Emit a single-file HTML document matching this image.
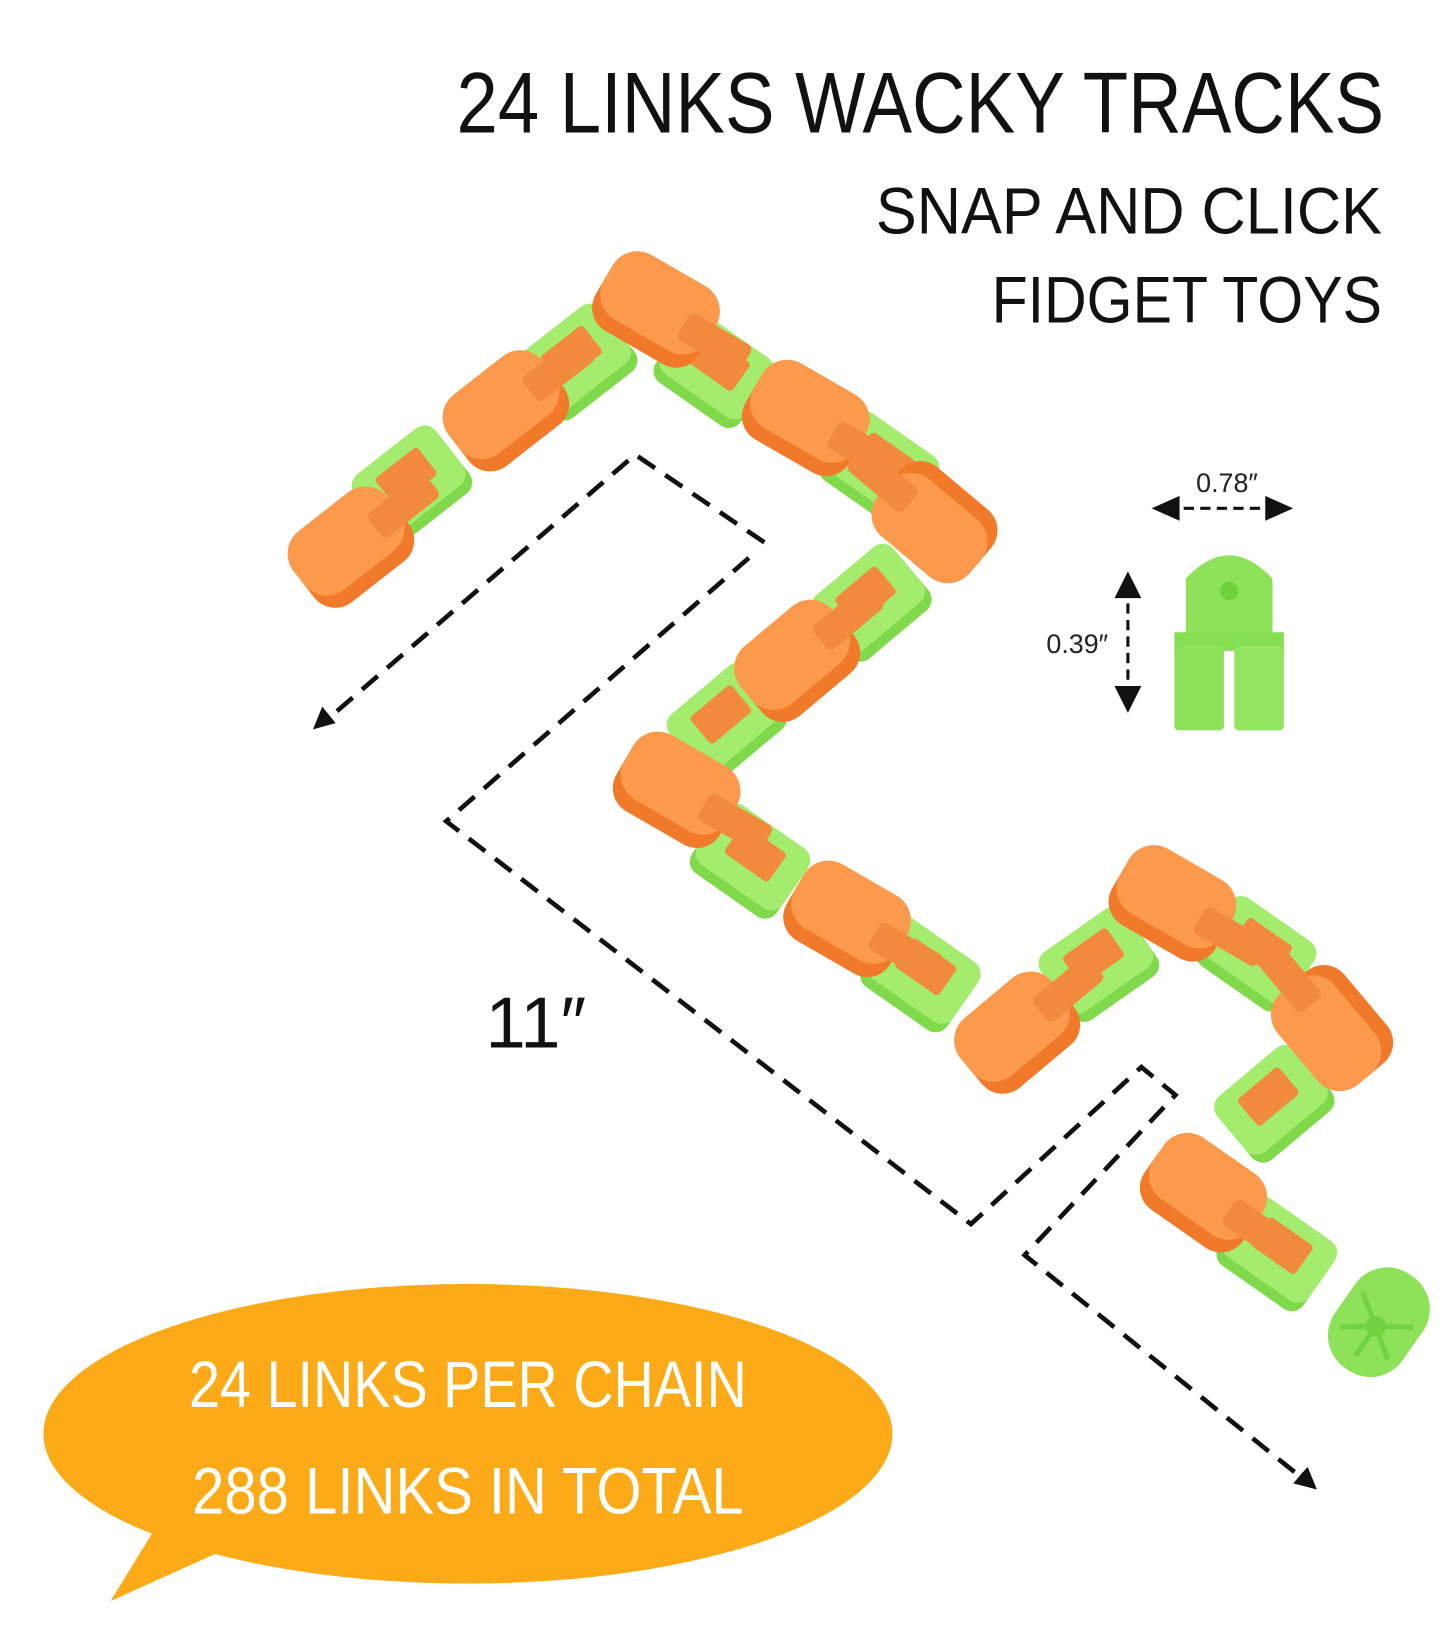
<!DOCTYPE html>
<html><head><meta charset="utf-8"><style>
html,body{margin:0;padding:0;background:#fff;}
svg{display:block;}
text{font-family:"Liberation Sans Narrow","Liberation Sans",sans-serif;}
</style></head><body>
<svg width="1445" height="1625" viewBox="0 0 1399 1573" xmlns="http://www.w3.org/2000/svg">
<defs>
<g id="og">
 <rect x="-58" y="-30" width="116" height="72" rx="26" fill="#f07a2a"/>
 <rect x="-58" y="-44" width="116" height="72" rx="28" fill="#fb9a4c"/>
 <rect x="30" y="-16" width="70" height="30" rx="6" fill="#f28a3e"/>
</g>
<g id="gr">
 <rect x="-50" y="-34" width="100" height="72" rx="14" fill="#7fd94a"/>
 <rect x="-50" y="-42" width="100" height="70" rx="14" fill="#a3ec6e"/>
 <rect x="-26" y="-28" width="52" height="34" rx="4" fill="#f28a3e"/>
</g>
<marker id="ah" markerWidth="10" markerHeight="10" refX="5" refY="5" orient="auto" markerUnits="userSpaceOnUse" viewBox="0 0 10 10"><path d="M0,0 L10,5 L0,10 Z" fill="#111"/></marker>
</defs>

<text x="1340" y="128" font-size="84" text-anchor="end" fill="#111" textLength="898" lengthAdjust="spacingAndGlyphs">24 LINKS WACKY TRACKS</text>
<text x="1338" y="226" font-size="64" text-anchor="end" fill="#111" textLength="490" lengthAdjust="spacingAndGlyphs">SNAP AND CLICK</text>
<text x="1338" y="312" font-size="64" text-anchor="end" fill="#111" textLength="378" lengthAdjust="spacingAndGlyphs">FIDGET TOYS</text>

<g>
<use href="#gr" transform="translate(400,470) rotate(-38)"/>
<use href="#gr" transform="translate(560,352) rotate(-38)"/>
<use href="#gr" transform="translate(690,360) rotate(35)"/>
<use href="#gr" transform="translate(850,455) rotate(35)"/>
<use href="#gr" transform="translate(845,585) rotate(-40)"/>
<use href="#gr" transform="translate(705,700) rotate(-40)"/>
<use href="#gr" transform="translate(725,835) rotate(35)"/>
<use href="#gr" transform="translate(890,945) rotate(35)"/>
<use href="#gr" transform="translate(1065,935) rotate(-35)"/>
<use href="#gr" transform="translate(1215,925) rotate(35)"/>
<use href="#gr" transform="translate(1235,1070) rotate(-40)"/>
<use href="#gr" transform="translate(1235,1215) rotate(35)"/>
</g>
<g transform="translate(1335,1280) rotate(-55)">
 <rect x="-55" y="-40" width="110" height="80" rx="38" fill="#8ee25a"/>
 <circle cx="-5" cy="0" r="10" fill="#6fd13e"/>
 <g stroke="#72d342" stroke-width="5"><line x1="-5" y1="0" x2="-40" y2="0"/><line x1="-5" y1="0" x2="-25" y2="-28"/><line x1="-5" y1="0" x2="-25" y2="28"/><line x1="-5" y1="0" x2="15" y2="-30"/><line x1="-5" y1="0" x2="15" y2="30"/></g>
</g>
<g>
<use href="#og" transform="translate(340,530) rotate(-38)"/>
<use href="#og" transform="translate(490,398) rotate(-38)"/>
<use href="#og" transform="translate(635,300) rotate(30)"/>
<use href="#og" transform="translate(780,405) rotate(30)"/>
<use href="#og" transform="translate(905,505) rotate(-140)"/>
<use href="#og" transform="translate(772,640) rotate(-40)"/>
<use href="#og" transform="translate(655,765) rotate(30)"/>
<use href="#og" transform="translate(820,890) rotate(30)"/>
<use href="#og" transform="translate(985,1000) rotate(-40)"/>
<use href="#og" transform="translate(1135,875) rotate(30)"/>
<use href="#og" transform="translate(1290,995) rotate(-130)"/>
<use href="#og" transform="translate(1165,1155) rotate(35)"/>
</g>

<g fill="none" stroke="#111" stroke-width="4.5" stroke-dasharray="20,12">
<polyline points="740,525 615,440 315,698" marker-end="url(#ah)"/>
<polyline points="725,540 432,795 940,1185 1105,1033 1138,1060 992,1215 1262,1432" marker-end="url(#ah)"/>
</g>
<path d="M303,706 L312,684 L325,700 Z" fill="#111"/>
<path d="M1275,1442 L1252,1436 L1266,1420 Z" fill="#111"/>

<text x="470" y="1014" font-size="70" fill="#111">11″</text>

<g fill="#111">
<line x1="1130" y1="492" x2="1238" y2="492" stroke="#111" stroke-width="3" stroke-dasharray="10,6"/>
<path d="M1115,492 L1142,480 L1142,504 Z"/><path d="M1252,492 L1225,480 L1225,504 Z"/>
<line x1="1092" y1="568" x2="1092" y2="676" stroke="#111" stroke-width="3" stroke-dasharray="10,6"/>
<path d="M1092,553 L1079,579 L1105,579 Z"/><path d="M1092,690 L1079,664 L1105,664 Z"/>
</g>
<text x="1188" y="476" font-size="26" text-anchor="middle" fill="#222">0.78″</text>
<text x="1043" y="632" font-size="26" text-anchor="middle" fill="#222">0.39″</text>
<g>
 <path d="M1148,560 Q1190,515 1232,560 L1232,615 L1148,615 Z" fill="#8ee25a"/>
 <circle cx="1190" cy="572" r="9" fill="#6fd13e"/>
 <rect x="1137" y="612" width="106" height="18" fill="#86de52"/>
 <rect x="1137" y="625" width="48" height="82" rx="4" fill="#8ee25a"/>
 <rect x="1195" y="625" width="48" height="82" rx="4" fill="#93e45e"/>
</g>

<ellipse cx="453" cy="1388" rx="411" ry="145" fill="#fcaa17"/>
<path d="M150,1480 L107,1550 L240,1490 Z" fill="#fcaa17"/>
<text x="453" y="1362" font-size="64" text-anchor="middle" fill="#fff" textLength="540" lengthAdjust="spacingAndGlyphs">24 LINKS PER CHAIN</text>
<text x="453" y="1465" font-size="64" text-anchor="middle" fill="#fff" textLength="534" lengthAdjust="spacingAndGlyphs">288 LINKS IN TOTAL</text>
</svg>
</body></html>
